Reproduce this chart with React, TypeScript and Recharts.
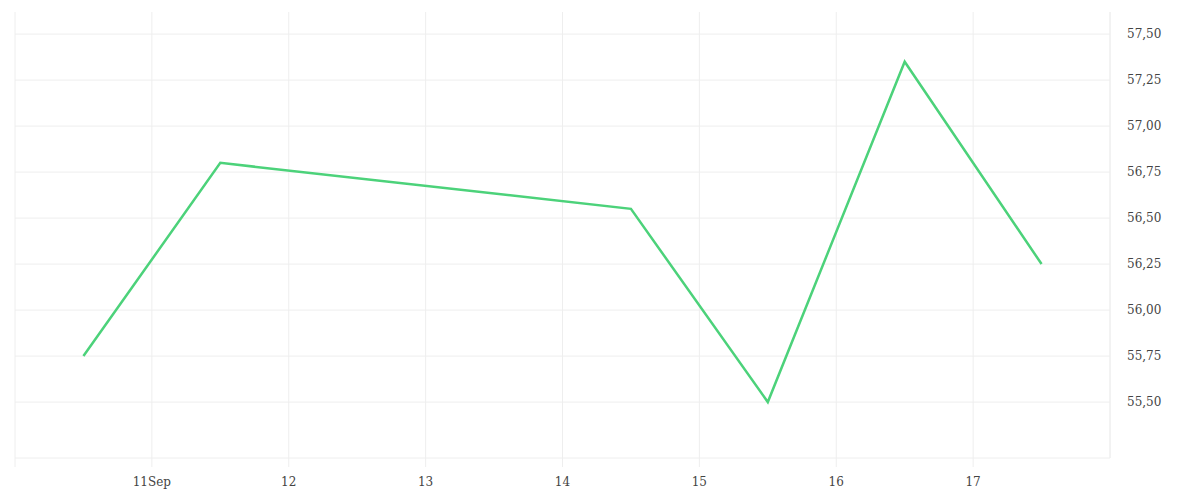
import { LineChart, Line, XAxis, YAxis, CartesianGrid, ReferenceLine } from "recharts";

// days of September, points sit at midday
const days = [10.5, 11.5, 14.5, 15.5, 16.5, 17.5];
const prices = [55.75, 56.8, 56.55, 55.5, 57.35, 56.25];

const dayTicks = [10, 11, 12, 13, 14, 15, 16, 17];
const priceTicks = [55.5, 55.75, 56, 56.25, 56.5, 56.75, 57, 57.25, 57.5];

const data = days.map((d, i) => ({ day: d, price: prices[i] }));

const tickStyle = { fill: "#444", fontSize: 12, fontFamily: "DejaVu Serif" };

export default function App() {
  return (
    <div style={{ position: "absolute", left: 0, top: 0, width: 1200, height: 500, background: "#fff" }}>
      <LineChart
        width={1200}
        height={500}
        data={data}
        margin={{ top: 12, right: 15, bottom: 12, left: 15 }}
      >
        {/* only vertical lines here, horizontal ones come from reference lines */}
        <CartesianGrid stroke="#eeeeee" horizontal={false} />
        {priceTicks.map((p) => (
          <ReferenceLine key={p} y={p} stroke="#eeeeee" strokeWidth={1} />
        ))}
        <XAxis
          dataKey="day"
          type="number"
          domain={[10, 18]}
          ticks={dayTicks}
          interval={0}
          height={30}
          axisLine={{ stroke: "#eeeeee" }}
          tickLine={{ stroke: "#eeeeee" }}
          tickSize={9}
          tickMargin={10}
          tick={tickStyle}
          tickFormatter={(v: number) => (v === 10 ? "" : v === 11 ? "11Sep" : String(v))}
        />
        <YAxis
          orientation="right"
          type="number"
          domain={[55.196, 57.62]}
          ticks={priceTicks}
          width={75}
          axisLine={{ stroke: "#eeeeee" }}
          tickLine={false}
          tickSize={6}
          tickMargin={11}
          tick={{ ...tickStyle, textAnchor: "start" }}
          tickFormatter={(v: number) => v.toFixed(2).replace(".", ",")}
          allowDataOverflow
        />
        <Line
          type="linear"
          dataKey="price"
          stroke="#4cd27a"
          strokeWidth={2.5}
          dot={false}
          activeDot={false}
          isAnimationActive={false}
        />
      </LineChart>
    </div>
  );
}
